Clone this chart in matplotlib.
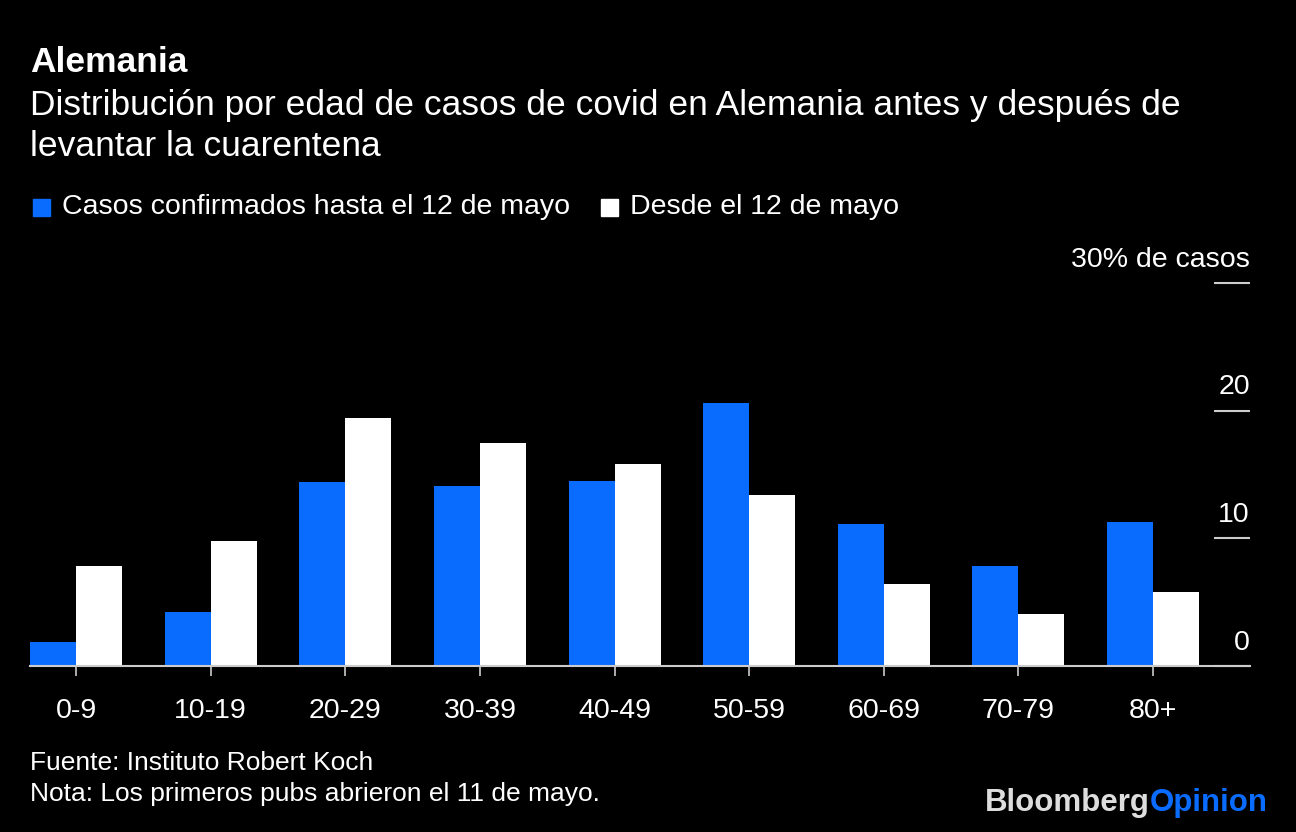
import matplotlib.pyplot as plt
import numpy as np
from matplotlib.transforms import blended_transform_factory

plt.rcParams['font.family'] = ['Liberation Sans', 'DejaVu Sans']

groups = ['0-9', '10-19', '20-29', '30-39', '40-49', '50-59', '60-69', '70-79', '80+']
antes = [1.9, 4.2, 14.4, 14.1, 14.5, 20.6, 11.1, 7.8, 11.3]
despues = [7.8, 9.8, 19.4, 17.5, 15.8, 13.4, 6.4, 4.1, 5.8]
yticks = [0, 10, 20, 30]
ytick_labels = ['0', '10', '20', '30% de casos']

blue = '#0a6cff'
W, H = 1296, 832
fig = plt.figure(figsize=(W / 100, H / 100), dpi=100, facecolor='black')
ax = fig.add_axes([30 / W, 1 - 666 / H, 1220 / W, (666 - 283) / H])
ax.set_facecolor('black')

x = np.arange(len(groups))
bw = 0.342
ax.bar(x - bw / 2, antes, bw, color=blue)
ax.bar(x + bw / 2, despues, bw, color='white')

ax.set_xlim(-bw, 8.72)
ax.set_ylim(0, 30)
for s in ['top', 'left', 'right']:
    ax.spines[s].set_visible(False)
ax.spines['bottom'].set_color('#cccccc')
ax.spines['bottom'].set_linewidth(1.5)
ax.spines['bottom'].set_zorder(3)

ax.set_xticks(x)
ax.set_xticklabels(groups, fontsize=20.5, color='white')
ax.tick_params(axis='x', length=7, width=1.2, color='#cccccc', pad=16)

ax.yaxis.tick_right()
ax.set_yticks(yticks)
ax.set_yticklabels([])
ax.tick_params(axis='y', direction='in', length=26, width=1.5, color='#cccccc', pad=0)

tr = blended_transform_factory(ax.transAxes, ax.transData)
for v, lab in zip(yticks, ytick_labels):
    ax.text(1.0, v + 0.8, lab, transform=tr, ha='right', va='bottom',
            fontsize=20.5, color='white')

fig.text(30 / W, 1 - 62 / H, 'Alemania', fontsize=25.5, fontweight='bold',
         color='white', va='center')
fig.text(30 / W, 1 - 105 / H, 'Distribución por edad de casos de covid en Alemania antes y después de',
         fontsize=25.5, color='white', va='center')
fig.text(30 / W, 1 - 146 / H, 'levantar la cuarentena',
         fontsize=25.5, color='white', va='center')

# legend
fig.patches.append(plt.Rectangle((33 / W, 1 - 216 / H), 17 / W, 17 / H,
                                 transform=fig.transFigure, color=blue))
fig.text(62 / W, 1 - 207 / H, 'Casos confirmados hasta el 12 de mayo',
         fontsize=20.5, color='white', va='center')
fig.patches.append(plt.Rectangle((601 / W, 1 - 216 / H), 17 / W, 17 / H,
                                 transform=fig.transFigure, color='white'))
fig.text(630 / W, 1 - 207 / H, 'Desde el 12 de mayo',
         fontsize=20.5, color='white', va='center')

fig.text(30 / W, 1 - 763 / H, 'Fuente: Instituto Robert Koch',
         fontsize=19, color='white', va='center')
fig.text(30 / W, 1 - 794 / H, 'Nota: Los primeros pubs abrieron el 11 de mayo.',
         fontsize=19, color='white', va='center')

t1 = fig.text(1268 / W, 1 - 803 / H, 'Opinion', fontsize=22.5, fontweight='bold',
              color=blue, ha='right', va='center')
fig.canvas.draw()
bb = t1.get_window_extent()
fig.text(bb.x0 / W, 1 - 803 / H, 'Bloomberg', fontsize=22.5, fontweight='bold',
         color='#dddddd', ha='right', va='center')

fig.savefig('out.png', dpi=100, facecolor='black')
